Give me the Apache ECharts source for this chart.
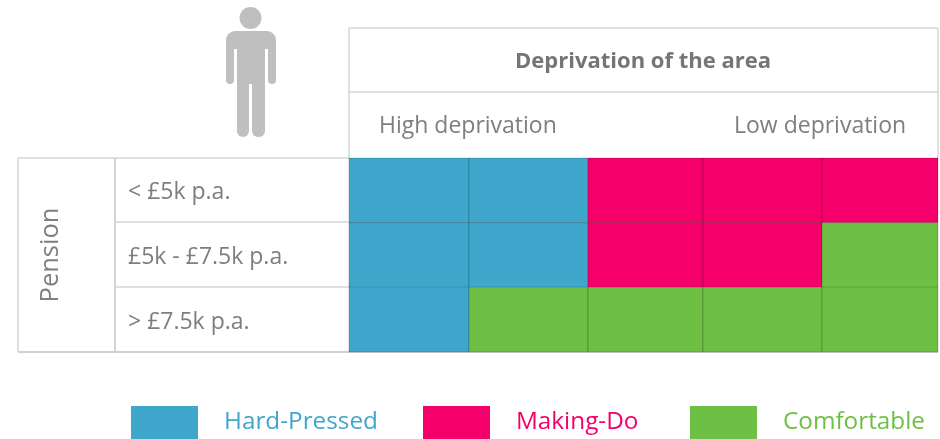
<!DOCTYPE html>
<html>
<head>
<meta charset="utf-8">
<style>html,body{margin:0;padding:0;background:#fff}#chart{width:940px;height:439px}</style>
<script src="https://cdn.jsdelivr.net/npm/echarts@6/dist/echarts.min.js"></script>
</head>
<body>
<div id="chart"></div>
<script>
// Household segments by pension income and area deprivation
const deprivationBands = ['Band 1', 'Band 2', 'Band 3', 'Band 4', 'Band 5'];
const pensionBands = ['< £5k p.a.', '£5k - £7.5k p.a.', '> £7.5k p.a.'];
const segmentNames = ['Hard-Pressed', 'Making-Do', 'Comfortable'];
const hardPressedCells = [[0, 0], [1, 0], [0, 1], [1, 1], [0, 2]];
const makingDoCells = [[2, 0], [3, 0], [4, 0], [2, 1], [3, 1]];
const comfortableCells = [[4, 1], [1, 2], [2, 2], [3, 2], [4, 2]];

const segmentCells = [hardPressedCells, makingDoCells, comfortableCells];
const segmentColors = ['#3fa6cc', '#f5006a', '#6ec045'];
const columnWidths = [120, 119, 115, 119, 116];
const legendLefts = [131, 423, 690];
const rule = '#d3d6d8';
const ink = '#7c7f80';
const font = '"Open Sans", "Noto Sans", sans-serif';

const line = (x1, y1, x2, y2, color = rule, w = 1.5) => ({
  type: 'line', shape: { x1, y1, x2, y2 }, style: { stroke: color, lineWidth: w }, silent: true
});
const label = (x, y, text, size, extra = {}) => ({
  type: 'text', x, y, silent: true,
  style: { text, fontFamily: font, fontSize: size, fill: ink, textVerticalAlign: 'middle', ...extra }
});

// Table frame around the cell block
const frame = [
  line(349, 28, 938, 28), line(349, 92, 938, 92), line(349, 28, 349, 158),
  line(938, 28, 938, 158), line(18, 158, 349, 158), line(18, 352, 938, 352, '#cfd2d4', 2),
  line(18, 158, 18, 352), line(115, 158, 115, 352, '#c4c7c9'), line(115, 222, 349, 222),
  line(115, 287, 349, 287)
];

const texts = [
  label(643, 62, 'Deprivation of the area', 22, { fontWeight: 'bold', textAlign: 'center', fill: '#737677' }),
  label(379, 126, 'High deprivation', 23),
  label(734, 126, 'Low deprivation', 23),
  label(128, 192, pensionBands[0], 23),
  label(128, 257, pensionBands[1], 23),
  label(128, 322, pensionBands[2], 23),
  { ...label(51, 255, 'Pension', 25.5, { textAlign: 'center' }), rotation: Math.PI / 2 }
];

// Standing figure above the pension column
const bodyPart = (x, y, width, height, r) => ({
  type: 'rect', silent: true, shape: { x, y, width, height, r }, style: { fill: '#bfbfbf' }
});
const person = [
  { type: 'circle', shape: { cx: 250.5, cy: 18, r: 11 }, style: { fill: '#bfbfbf' }, silent: true },
  bodyPart(226, 31, 50, 18, [9, 9, 0, 0]),
  bodyPart(226, 40, 8, 44, 4),
  bodyPart(268, 40, 8, 44, 4),
  bodyPart(237, 40, 28, 44, 0),
  bodyPart(237, 78, 12, 59, [0, 0, 6, 6]),
  bodyPart(252, 78, 13, 59, [0, 0, 6, 6])
];

const chart = echarts.init(document.getElementById('chart'), null, { renderer: 'canvas' });
chart.setOption({
  animation: false,
  backgroundColor: '#fff',
  matrix: {
    left: 349, top: 158, width: 589, height: 194,
    x: { show: false, data: deprivationBands.map((value, i) => ({ value, size: columnWidths[i] })) },
    y: { show: false, data: pensionBands },
    body: { itemStyle: { borderWidth: 0, color: 'transparent' } },
    backgroundStyle: { color: 'transparent', borderWidth: 0 }
  },
  legend: segmentNames.map((name, i) => ({
    data: [{ name, icon: 'rect', itemStyle: { color: segmentColors[i], borderWidth: 0 } }],
    left: legendLefts[i], top: 406, padding: 0, selectedMode: false,
    itemWidth: 67, itemHeight: 33,
    textStyle: { color: segmentColors[i], fontFamily: font, fontSize: 24.3, padding: [5, 0, 0, 21] }
  })),
  graphic: { elements: [...frame, ...texts, ...person] },
  series: segmentNames.map((name, i) => ({
    name, type: 'heatmap', coordinateSystem: 'matrix',
    itemStyle: { color: segmentColors[i], borderColor: 'rgba(0,0,0,0.18)', borderWidth: 1 },
    emphasis: { disabled: true },
    data: segmentCells[i].map(([c, r]) => [deprivationBands[c], pensionBands[r], 1])
  }))
});
</script>
</body>
</html>
